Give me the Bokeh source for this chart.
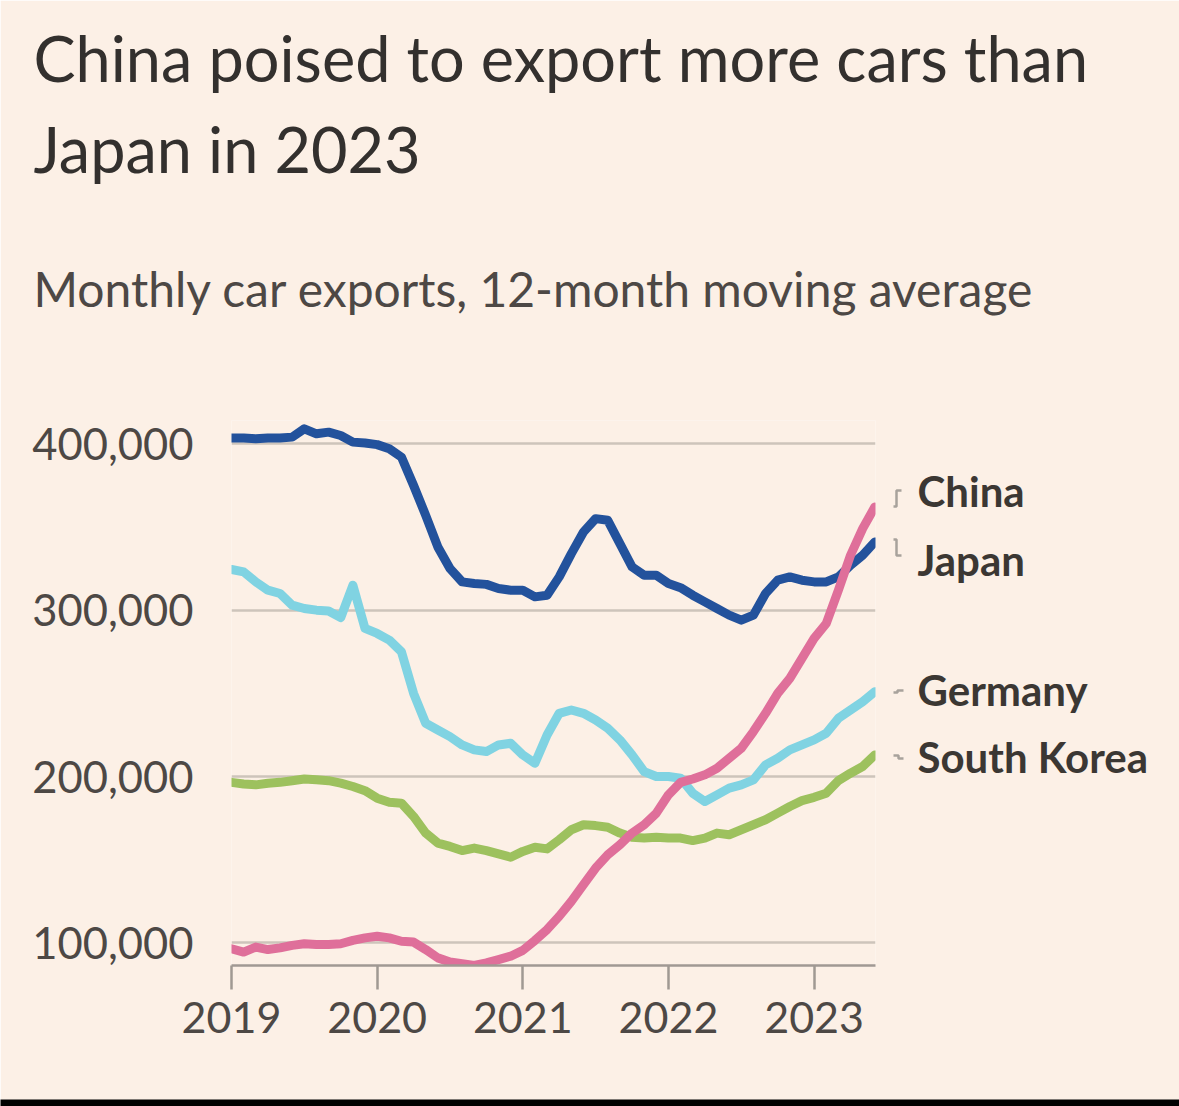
from bokeh.plotting import figure
from bokeh.models import Range1d, FixedTicker, NumeralTickFormatter, ColumnDataSource
from bokeh.core.properties import value
from bokeh.embed import file_html
from bokeh.resources import INLINE

# ---------------- data (monthly, 12-month moving average, thousands of cars) -------------
start_year = 2019
n_months = 54  # Jan 2019 .. Jun 2023
years = [2019, 2020, 2021, 2022, 2023]
y_ticks = [100000, 200000, 300000, 400000]

japan_k = [403.5, 403.5, 403, 403.5, 403.5, 404, 409, 406, 407, 405,
           401, 400.5, 399.5, 397, 392, 375, 357, 338, 325, 317,
           316, 315.5, 313, 312, 312, 308, 309, 320, 334, 347,
           355, 354, 340, 326, 321, 321, 316, 313.5, 309, 305,
           301, 297, 294, 297, 310, 318, 320, 318, 317, 317,
           320, 327, 333, 341]
germany_k = [324.5, 323, 317, 312, 310, 303, 301, 300, 299.5, 295.5,
             315, 289, 286, 282, 275, 250, 232, 228, 224, 219,
             216, 215, 219, 220, 213, 208, 225, 238, 240, 238,
             234, 229, 222, 213, 203, 200, 200, 199, 190, 185,
             189, 193, 195, 198, 207, 211, 216, 219, 222, 226,
             235, 240, 245, 251]
south_korea_k = [196.5, 195.5, 195, 196, 196.5, 197.5, 198.5, 198, 197.5, 196,
                 194, 191.5, 187, 184.5, 184, 176, 166, 160, 158, 155.5,
                 157, 155.5, 153.5, 151.5, 155, 157.5, 156.5, 162, 168, 171,
                 170.5, 169.5, 166, 163.5, 163, 163.5, 163, 163, 161.5, 163,
                 166, 165, 168, 171, 174, 178, 182, 185.5, 187.5, 190,
                 197.5, 202, 206, 213]
china_k = [96.5, 94.5, 97.5, 96, 97, 98.5, 99.5, 99, 99, 99.5,
           101.5, 103, 104, 103, 101, 100.5, 96, 91, 88.5, 87.5,
           86.5, 88, 90, 92, 95.5, 101.5, 108, 116, 125, 135,
           145, 153, 159, 166, 171, 178, 189, 196.5, 198.5, 201,
           205, 211, 217, 227, 238, 250, 259, 271, 283, 292,
           312, 333, 349, 362]

series_names = ["South Korea", "Germany", "Japan", "China"]
series_values = [south_korea_k, germany_k, japan_k, china_k]
series_colors = ["#9dc15e", "#80d3e2", "#23529c", "#df6f9a"]

title_lines = ["China poised to export more cars than", "Japan in 2023"]
subtitle = "Monthly car exports, 12-month moving average"
label_names = ["China", "Japan", "Germany", "South Korea"]

# ---------------- layout helpers (reference pixel -> data coordinates) ----------------
PX_X0, PX_PER_YEAR = 231.0, 145.65
PX_Y100K, PX_PER_100K = 942.4, 166.37
W, H = 1179, 1106
FRAME_L, FRAME_R, FRAME_T, FRAME_B = 231, 875, 420, 965


def X(px):
    return start_year + (px - PX_X0) / PX_PER_YEAR


def Y(py):
    return 100000 + (PX_Y100K - py) * 100000 / PX_PER_100K


BG = "#FCF0E6"
FONT = "Lato"

p = figure(width=W, height=H, output_backend="svg", toolbar_location=None,
           x_range=Range1d(X(FRAME_L), X(FRAME_R)),
           y_range=Range1d(Y(FRAME_B), Y(FRAME_T)),
           min_border_left=FRAME_L, min_border_right=W - FRAME_R,
           min_border_top=FRAME_T, min_border_bottom=H - FRAME_B)
p.background_fill_color = BG
p.border_fill_color = BG
p.outline_line_color = None

# axes
p.xaxis.ticker = FixedTicker(ticks=years)
p.xaxis.formatter = NumeralTickFormatter(format="0")
p.xaxis.axis_line_color = "#a09993"
p.xaxis.axis_line_width = 2.5
p.xaxis.major_tick_line_color = "#a09993"
p.xaxis.major_tick_line_width = 2.5
p.xaxis.major_tick_out = 24
p.xaxis.major_tick_in = 0
p.xaxis.minor_tick_line_color = None
p.xaxis.major_label_standoff = 12
p.xaxis.major_label_text_font = FONT
p.xaxis.major_label_text_font_size = "43px"
p.xaxis.major_label_text_color = "#4d4845"

p.yaxis.ticker = FixedTicker(ticks=y_ticks)
p.yaxis.formatter = NumeralTickFormatter(format="0,0")
p.yaxis.axis_line_color = None
p.yaxis.major_tick_line_color = None
p.yaxis.minor_tick_line_color = None
p.yaxis.major_label_standoff = 32
p.yaxis.major_label_text_font = FONT
p.yaxis.major_label_text_font_size = "43.5px"
p.yaxis.major_label_text_color = "#4d4845"

p.xgrid.visible = False
p.ygrid.grid_line_color = "#cdc4bb"
p.ygrid.grid_line_width = 2.5

# lines
xs = [start_year + i / 12 for i in range(n_months)]
for name, vals, col in zip(series_names, series_values, series_colors):
    src = ColumnDataSource(dict(x=xs, y=[v * 1000 for v in vals]))
    p.line("x", "y", source=src, line_color=col, line_width=9,
           line_cap="round", line_join="round")

# titles (drawn at overlay level so they are not clipped to the frame)
p.text(x=[X(33), X(33)], y=[Y(57), Y(148)], text=title_lines,
       text_font=value(FONT), text_font_size="63px", text_color="#33302e",
       text_baseline="middle", text_align="left", level="overlay")
p.text(x=[X(33)], y=[Y(287.5)], text=[subtitle],
       text_font=value(FONT), text_font_size="48px", text_color="#4d4845",
       text_baseline="middle", text_align="left", level="overlay")

# right-hand labels and leader marks
label_py = [490.5, 559.5, 689.5, 756.5]
p.text(x=[X(917)] * len(label_names), y=[Y(v) for v in label_py], text=label_names,
       text_font=value(FONT), text_font_size="42px", text_font_style="bold",
       text_color="#3b3733", text_baseline="middle", text_align="left",
       level="overlay")
leaders = [
    [(893, 506), (896, 506), (896, 490), (901, 490)],
    [(893, 539), (896, 539), (896, 555), (901, 555)],
    [(893, 692), (897, 692), (897, 690), (903, 690)],
    [(893, 755), (898, 755), (898, 758), (903, 758)],
]
p.multi_line([[X(a) for a, b in l] for l in leaders],
             [[Y(b) for a, b in l] for l in leaders],
             line_color="#a8a29c", line_width=2.5, level="overlay")

# dark strip along the bottom edge of the screenshot
p.quad(left=[X(0)], right=[X(W)], top=[Y(1099)], bottom=[Y(H + 2)],
       fill_color="#000000", line_color=None, level="overlay")

open("out.html", "w").write(file_html(p, INLINE))
